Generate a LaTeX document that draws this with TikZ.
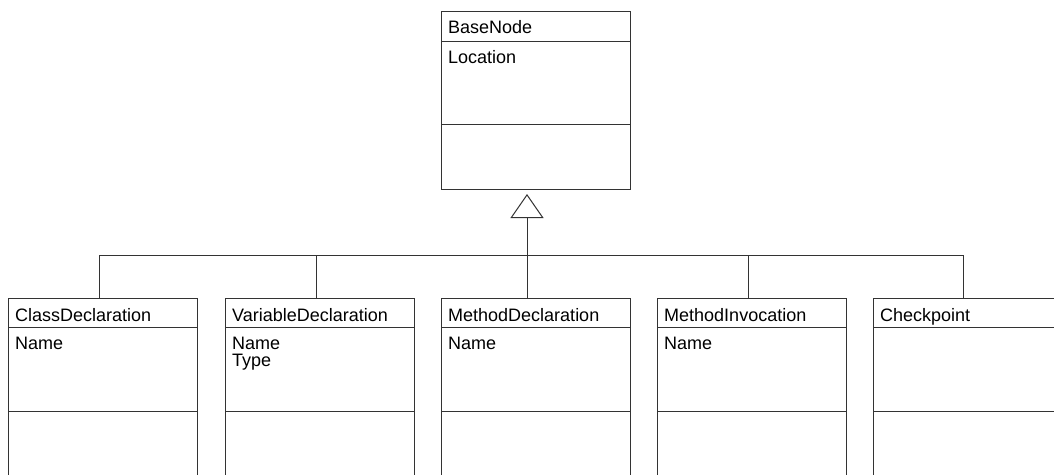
\documentclass[tikz,border=0pt]{standalone}
\usepackage{fontspec}
\setmainfont{Liberation Sans}
\usetikzlibrary{arrows.meta}

\begin{document}
\begin{tikzpicture}[x=1pt,y=-1pt,
    klasse/.style={draw=black!80,line width=1pt,minimum width=189pt,minimum height=178pt,anchor=north west,inner sep=0pt},
    trenn/.style={draw=black!80,line width=1pt},
    eintrag/.style={anchor=base west,inner sep=0pt,align=left,font=\fontsize{18}{16.7}\selectfont},
    erbt/.style={draw=black!80,line width=1pt}]
    \useasboundingbox (0,0) rectangle (1054,474);
    \clip (0,0) rectangle (1054,474);
    % Basisklasse oben
    \node[klasse] (base) at (441,11) {};
    \draw[trenn] ([yshift=-30pt]base.north west) -- ([yshift=-30pt]base.north east);
    \draw[trenn] ([yshift=-113pt]base.north west) -- ([yshift=-113pt]base.north east);
    \node[eintrag] (base-titel) at ([xshift=7pt,yshift=-22.5pt]base.north west) {BaseNode};
    \node[eintrag,anchor=north west] (base-attr) at ([xshift=7pt,yshift=-39pt]base.north west) {Location};
    \coordinate (bus) at (527,255);
    % abgeleitete Klassen; Anschluss etwas links der Mitte
    \foreach \name/\x/\titel/\attr/\dx in {
        cdecl/8/ClassDeclaration/Name/-3.5,
        vdecl/225/VariableDeclaration/{Name\\Type}/-3.5,
        mdecl/441/MethodDeclaration/Name/-8.5,
        minv/657/MethodInvocation/Name/-3.5,
        chk/873/Checkpoint/{}/-4.5}{
      \node[klasse] (\name) at (\x,298) {};
      \draw[trenn] ([yshift=-29pt]\name.north west) -- ([yshift=-29pt]\name.north east);
      \draw[trenn] ([yshift=-113pt]\name.north west) -- ([yshift=-113pt]\name.north east);
      \node[eintrag] (\name-titel) at ([xshift=7pt,yshift=-23pt]\name.north west) {\titel};
      \node[eintrag,anchor=north west] (\name-attr) at ([xshift=7pt,yshift=-39pt]\name.north west) {\attr};
      \draw[erbt] ([xshift=\dx pt]\name.north) |- (bus);
    }
    \draw[erbt,-{Triangle[open,length=24pt,width=33pt]},shorten >=4pt] (bus) -- (bus |- base.south);
\end{tikzpicture}
\end{document}
